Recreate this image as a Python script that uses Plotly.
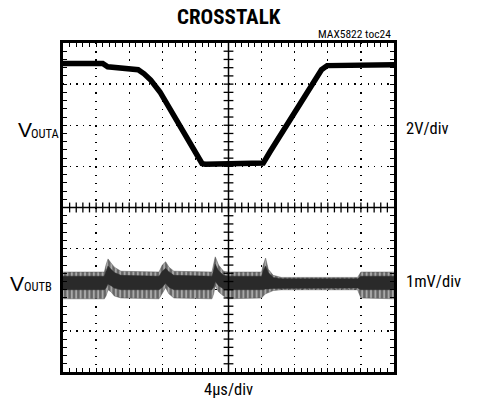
import numpy as np
import plotly.graph_objects as go

# ---- data (in screen divisions) ----
a_t = [0, 1.2, 1.35, 1.6, 2.0, 2.27, 2.45, 2.65, 2.93, 4.1, 4.2, 4.3, 5.0, 6.0, 6.05, 6.25, 7.36, 7.81, 7.98, 8.5, 10]
a_v = [7.5, 7.5, 7.42, 7.4, 7.38, 7.35, 7.25, 7.1, 6.81, 5.15, 5.07, 5.05, 5.05, 5.05, 5.08, 5.35, 6.79, 7.35, 7.45, 7.46, 7.47]

b_t = [0, 1.25, 1.3, 1.36, 1.45, 1.55, 1.75, 2.9, 3.0, 3.1, 3.2, 3.35, 4.5, 4.55, 4.6, 4.7, 4.85, 5.0,
       6.0, 6.05, 6.12, 6.2, 6.35, 6.6, 8.9, 9.0, 10]
b_hi_outer = [2.43, 2.43, 2.6, 2.75, 2.65, 2.55, 2.45, 2.43, 2.6, 2.68, 2.55, 2.45, 2.43, 2.65, 2.8, 2.6, 2.45, 2.43,
              2.43, 2.6, 2.77, 2.5, 2.35, 2.3, 2.3, 2.43, 2.43]
b_lo_outer = [1.78, 1.78, 1.85, 2.0, 1.95, 1.85, 1.8, 1.78, 1.9, 2.05, 1.9, 1.8, 1.78, 1.9, 2.1, 1.95, 1.85, 1.78,
              1.8, 1.85, 1.9, 1.92, 1.98, 2.0, 2.0, 1.8, 1.78]
b_hi_core = [2.33, 2.33, 2.45, 2.58, 2.5, 2.42, 2.35, 2.33, 2.45, 2.52, 2.44, 2.35, 2.33, 2.5, 2.62, 2.46, 2.35, 2.33,
             2.33, 2.46, 2.58, 2.42, 2.3, 2.27, 2.27, 2.33, 2.33]
b_lo_core = [2.0, 2.0, 2.04, 2.14, 2.1, 2.04, 2.0, 2.0, 2.06, 2.16, 2.06, 2.0, 2.0, 2.06, 2.2, 2.1, 2.02, 2.0,
             2.0, 2.0, 2.02, 2.02, 2.03, 2.04, 2.04, 2.0, 2.0]

title = "CROSSTALK"
note = "MAX5822 toc24"
x_label = "4µs/div"
sym = "V"
ch_a, ch_b = "OUTA", "OUTB"
scale_a, scale_b = "2V/div", "1mV/div"

FONT = "Liberation Sans Narrow, Arial Narrow, Roboto Condensed, Liberation Sans, sans-serif"
WIDE = "Liberation Sans, Arial, sans-serif"

fig = go.Figure()

# channel B noise band (striped outer envelope, solid core)
fig.add_trace(go.Scatter(x=b_t + b_t[::-1], y=b_hi_outer + b_lo_outer[::-1], fill="toself",
                         fillcolor="#9a9a9a",
                         fillpattern=dict(shape="|", size=4.4, solidity=0.55, fgcolor="#1e1e1e", bgcolor="#a8a8a8"),
                         line=dict(color="#555555", width=0.5),
                         mode="lines", hoverinfo="skip", showlegend=False))
fig.add_trace(go.Scatter(x=b_t + b_t[::-1], y=b_hi_core + b_lo_core[::-1], fill="toself",
                         fillcolor="#2a2a2a", line=dict(color="#2a2a2a", width=0.5),
                         mode="lines", hoverinfo="skip", showlegend=False))

# channel A
fig.add_trace(go.Scatter(x=a_t, y=a_v, mode="lines", line=dict(color="black", width=5.5),
                         hoverinfo="skip", showlegend=False))

# center cross with tick marks
fig.add_shape(type="line", x0=5, x1=5, y0=0, y1=8, line=dict(color="black", width=1.5))
fig.add_shape(type="line", x0=0, x1=10, y0=4, y1=4, line=dict(color="black", width=1.5))
vy = np.arange(0.2, 8, 0.2)
hx = np.arange(0.2, 10, 0.2)
fig.add_trace(go.Scatter(x=[5] * len(vy), y=vy, mode="markers",
                         marker=dict(symbol="line-ew", size=7, line=dict(color="black", width=1.3)),
                         hoverinfo="skip", showlegend=False))
fig.add_trace(go.Scatter(x=hx, y=[4] * len(hx), mode="markers",
                         marker=dict(symbol="line-ns", size=7, line=dict(color="black", width=1.3)),
                         hoverinfo="skip", showlegend=False))

axis_common = dict(showticklabels=False, zeroline=False, showline=True, linewidth=3, linecolor="black",
                   mirror="allticks", ticks="inside", ticklen=4, tickcolor="black", tickwidth=1,
                   gridcolor="black", gridwidth=1.3, tick0=0, dtick=1, fixedrange=True)
fig.update_xaxes(range=[0, 10], griddash="1.3px,6.93px",
                 minor=dict(dtick=0.2, ticks="inside", ticklen=4, tickcolor="black", showgrid=False),
                 **axis_common)
fig.update_yaxes(range=[0, 8], griddash="1.3px,5.32px",
                 minor=dict(dtick=0.2, ticks="inside", ticklen=4, tickcolor="black", showgrid=False),
                 **axis_common)

def ann(text, x, y, size, xanchor="center", yanchor="middle", family=FONT):
    fig.add_annotation(text=text, x=x, y=y, xref="paper", yref="paper", showarrow=False,
                       xanchor=xanchor, yanchor=yanchor, borderpad=0,
                       font=dict(family=family, size=size, color="black"))

ann(f"<b>{title}</b>", 0.5, 1.079, 21)
ann(note, 0.994, 1.027, 11.5, xanchor="right")
# channel labels: large V with smaller condensed suffix on the same baseline
ann(sym, -0.1133, 0.737, 21, family=WIDE)
ann(ch_a, -0.0544, 0.7264, 12.5)
ann(sym, -0.1375, 0.269, 21, family=WIDE)
ann(ch_b, -0.077, 0.2584, 12.5)
ann(scale_a, 1.033, 0.7416, 16.5, xanchor="left")
ann(scale_b, 1.033, 0.2736, 16.5, xanchor="left")
ann(x_label, 0.5, -0.0517, 16.5)

fig.update_layout(width=494, height=404, margin=dict(l=63, r=100, t=43, b=32),
                  paper_bgcolor="white", plot_bgcolor="white", showlegend=False)

# remove the browser's default 8px body margin so the figure sits at the page origin
fig.write_html("out.html", config={"displayModeBar": False, "staticPlot": True},
               post_script="document.body.style.margin='0';")
